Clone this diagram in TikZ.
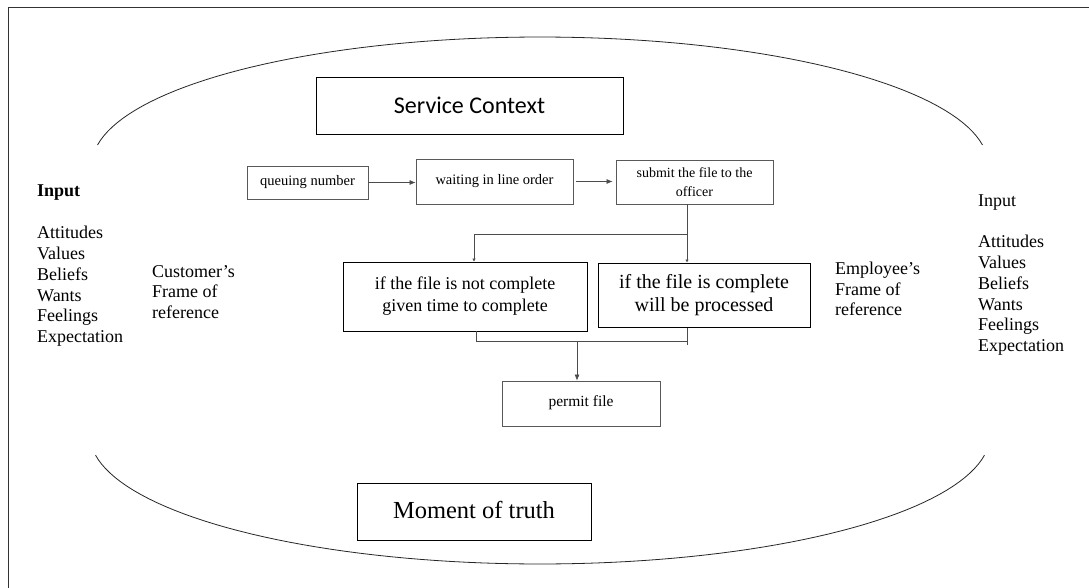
\documentclass[tikz,border=0pt]{standalone}
\usepackage{fontspec}
\setmainfont{Liberation Serif}
\newfontfamily\calib{Carlito}
\usetikzlibrary{arrows.meta}
\begin{document}
\begin{tikzpicture}[x=1pt,y=-1pt,
  bigbox/.style={draw=black,line width=0.9pt,inner sep=0pt,align=center},
  smallbox/.style={draw=black!65,line width=0.8pt,inner sep=0pt,align=center,font=\fontsize{14.5}{17}\selectfont},
  midbox/.style={draw=black,line width=0.8pt,inner sep=0pt,align=center},
  conn/.style={draw=black!70,line width=0.7pt},
  arr/.style={conn,-{Latex[length=6pt,width=5pt]}},
  smallarr/.style={conn,-{Latex[length=3pt,width=3.5pt]}},
  plain/.style={inner sep=0pt,align=left,font=\fontsize{18}{20.8}\selectfont}]
\useasboundingbox (0,0) rectangle (1089,588);
\fill[white] (0,0) rectangle (1089,588);
% frame
\draw[line width=1pt,black!80] (8,588) -- (8,8) -- (1089,8);
% ellipse arcs
\draw[line width=0.8pt,black!85] plot[domain=9:171,samples=80] ({540+448*cos(\x)},{165-128*sin(\x)});
\draw[line width=0.8pt,black!85] plot[domain=189:351,samples=80] ({540+450*cos(\x)},{435-129*sin(\x)});
% nodes
\node[bigbox,minimum width=307pt,minimum height=57pt,font=\calib\fontsize{24}{28}\selectfont] (sc) at (469.5,105.5) {Service Context};
\node[smallbox,minimum width=121pt,minimum height=33pt] (qn) at (307.5,182.5) {queuing number};
\node[smallbox,minimum width=157pt,minimum height=45pt] (wl) at (494.5,181.5) {\raisebox{5pt}{waiting in line order}};
\node[smallbox,minimum width=157pt,minimum height=44pt,font=\fontsize{14}{19}\selectfont] (sub) at (694.5,182) {submit the file to the\\officer};
\node[midbox,minimum width=244pt,minimum height=69pt,font=\fontsize{18}{22}\selectfont] (nc) at (465,296.5) {\raisebox{2pt}{\begin{tabular}{@{}c@{}}if the file is not complete\\[0pt]given time to complete\end{tabular}}};
\node[midbox,line width=1pt,minimum width=212pt,minimum height=64pt,font=\fontsize{20}{23}\selectfont] (cp) at (704,295) {if the file is complete\\will be processed};
\node[smallbox,minimum width=158pt,minimum height=45pt,font=\fontsize{15.5}{18}\selectfont] (pf) at (581,403.5) {\raisebox{5pt}{permit file}};
\node[bigbox,minimum width=234pt,minimum height=57pt,font=\fontsize{24.5}{28}\selectfont] (mt) at (474,511.5) {\raisebox{3pt}{Moment of truth}};
% left texts
\node[plain,anchor=west] (inl) at (37,193) {\textbf{Input}};
\node[plain,anchor=north west] (lstl) at (37,226) {Attitudes\\Values\\Beliefs\\Wants\\Feelings\\Expectation};
\node[plain,anchor=west] (cust) at (152,292) {Customer’s\\Frame of\\reference};
% right texts
\node[plain,anchor=west] (emp) at (835,289) {Employee’s\\Frame of\\reference};
\node[plain,anchor=west] (inr) at (978,203) {Input};
\node[plain,anchor=north west] (lstr) at (978,235) {Attitudes\\Values\\Beliefs\\Wants\\Feelings\\Expectation};
% connectors
\coordinate (j1) at (687,234);
\coordinate (j2) at (474,234);
\coordinate (j3) at (476,341);
\coordinate (j4) at (687,341);
\coordinate (j6) at (687,345);
\coordinate (j5) at (577,341);
\draw[arr] (qn.east) -- (qn.east -| wl.west);
\draw[arr,shorten <=3pt,shorten >=3pt] (wl.east) -- (wl.east -| sub.west);
\draw[conn] (sub.south -| j1) -- (j1);
\draw[smallarr] (j1) -- (j1 |- cp.north);
\draw[smallarr] (j1) -- (j2) -- (j2 |- nc.north);
\draw[conn] (nc.south -| j3) -- (j3) -- (j4);
\draw[conn] (cp.south -| j6) -- (j6);
\draw[arr] (j5) -- (j5 |- pf.north);
\end{tikzpicture}
\end{document}
